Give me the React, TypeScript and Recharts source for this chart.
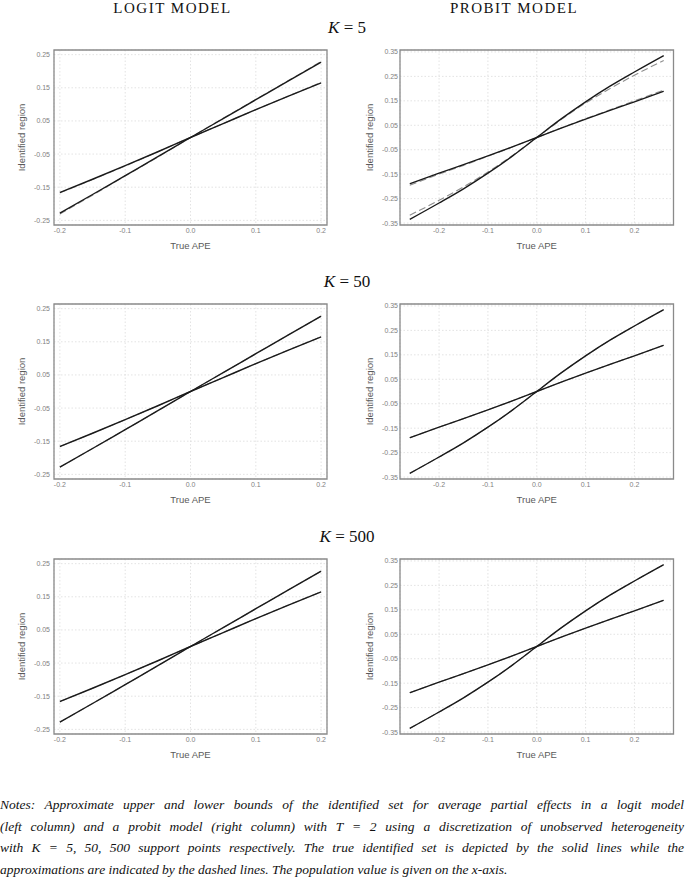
import React from "react";
import { CartesianGrid, Line, LineChart, ReferenceArea, XAxis, YAxis } from "recharts";

// ---------------------------------------------------------------------------
// Data (true APE on the x axis)
// ---------------------------------------------------------------------------

const LOGIT_X = [-0.2, -0.15, -0.1, -0.05, 0, 0.05, 0.1, 0.15, 0.2];
const LOGIT_STEEP = [-0.228, -0.172, -0.115, -0.058, 0.0, 0.057, 0.114, 0.171, 0.227];
const LOGIT_SHALLOW = [-0.166, -0.126, -0.085, -0.043, 0.0, 0.042, 0.084, 0.125, 0.165];
// K = 5 approximations (dashed)
const LOGIT_STEEP_K5 = [-0.231, -0.174, -0.116, -0.059, 0.0, 0.058, 0.115, 0.172, 0.229];
const LOGIT_SHALLOW_K5 = [-0.167, -0.127, -0.086, -0.043, 0.0, 0.042, 0.084, 0.125, 0.166];

const PROBIT_X = [-0.26, -0.2, -0.15, -0.1, -0.05, 0, 0.05, 0.1, 0.15, 0.2, 0.26];
const PROBIT_STEEP = [-0.335, -0.268, -0.210, -0.146, -0.076, 0.0, 0.076, 0.146, 0.210, 0.268, 0.335];
const PROBIT_SHALLOW = [-0.189, -0.146, -0.111, -0.075, -0.038, 0.0, 0.038, 0.075, 0.111, 0.146, 0.189];
// K = 5 approximations (dashed)
const PROBIT_STEEP_K5 = [-0.318, -0.257, -0.202, -0.141, -0.074, 0.0, 0.073, 0.141, 0.200, 0.255, 0.315];
const PROBIT_SHALLOW_K5 = [-0.195, -0.15, -0.114, -0.077, -0.039, 0.0, 0.039, 0.077, 0.113, 0.15, 0.194];

const K_VALUES = ["5", "50", "500"];

const LOGIT_X_TICKS = [-0.2, -0.1, 0, 0.1, 0.2];
const LOGIT_Y_TICKS = [-0.25, -0.15, -0.05, 0.05, 0.15, 0.25];
const PROBIT_X_TICKS = [-0.2, -0.1, 0, 0.1, 0.2];
const PROBIT_Y_TICKS = [-0.35, -0.25, -0.15, -0.05, 0.05, 0.15, 0.25, 0.35];

const NOTE_LINES = [
  "Notes: Approximate upper and lower bounds of the identified set for average partial effects in a logit model",
  "(left column) and a probit model (right column) with {T} = 2 using a discretization of unobserved heterogeneity",
  "with {K} = 5, 50, 500 support points respectively. The true identified set is depicted by the solid lines while the",
  "approximations are indicated by the dashed lines. The population value is given on the x-axis.",
];

// ---------------------------------------------------------------------------
// Styling
// ---------------------------------------------------------------------------

const SANS = '"Liberation Sans", Arial, sans-serif';
const SERIF = '"Liberation Serif", "Times New Roman", serif';
const TICK = { fontSize: 7, fill: "#7f7f7f", fontFamily: SANS };
const TITLE_COLOR = "#5a5a5a";
const FRAME_TOPS = [50, 304, 558.5];
const FRAME_H = 175;

type PanelProps = {
  model: "logit" | "probit";
  frameTop: number;
  xs: number[];
  steep: number[];
  shallow: number[];
  steepApprox: number[];
  shallowApprox: number[];
};

function Panel({ model, frameTop, xs, steep, shallow, steepApprox, shallowApprox }: PanelProps) {
  const logit = model === "logit";
  const colLeft = logit ? 0 : 340;
  const W = logit ? 340 : 345;
  const frameLeft = logit ? 54 : 400;
  const frameRight = logit ? 327 : 673.5;
  const yw = frameLeft - colLeft;
  const mr = colLeft + W - frameRight;
  const H = 10 + FRAME_H + 40;
  const xDomain: [number, number] = logit ? [-0.209, 0.209] : [-0.28, 0.28];
  const yDomain: [number, number] = logit ? [-0.264, 0.264] : [-0.358, 0.358];
  const yTitleX = logit ? 21.7 : 29.3;

  const data = xs.map((x, i) => ({
    x,
    steep: steep[i],
    shallow: shallow[i],
    steepApprox: steepApprox[i],
    shallowApprox: shallowApprox[i],
  }));

  const yTitle = () => {
    const cy = 10 + FRAME_H / 2;
    return (
      <text
        x={yTitleX}
        y={cy}
        transform={`rotate(-90, ${yTitleX}, ${cy})`}
        textAnchor="middle"
        dominantBaseline="central"
        fontFamily={SANS}
        fontSize={9.5}
        fill={TITLE_COLOR}
      >
        Identified region
      </text>
    );
  };
  const xTitle = () => (
    <text
      x={yw + (frameRight - frameLeft) / 2}
      y={10 + FRAME_H + 20}
      textAnchor="middle"
      dominantBaseline="central"
      fontFamily={SANS}
      fontSize={9.5}
      fill={TITLE_COLOR}
    >
      True APE
    </text>
  );

  return (
    <div style={{ position: "absolute", left: colLeft, top: frameTop - 10 }}>
      <LineChart width={W} height={H} data={data} margin={{ top: 10, right: mr, bottom: 0, left: 0 }}>
        <CartesianGrid strokeDasharray="1.5 2" stroke="#dcdcdc" strokeWidth={0.8} />
        <XAxis
          dataKey="x"
          type="number"
          domain={xDomain}
          ticks={logit ? LOGIT_X_TICKS : PROBIT_X_TICKS}
          tickFormatter={(v: number) => v.toFixed(1)}
          tick={TICK}
          tickLine={false}
          axisLine={false}
          tickSize={0}
          tickMargin={3}
          interval={0}
          height={40}
          allowDataOverflow
          label={xTitle}
        />
        <YAxis
          type="number"
          domain={yDomain}
          ticks={logit ? LOGIT_Y_TICKS : PROBIT_Y_TICKS}
          tickFormatter={(v: number) => v.toFixed(2)}
          tick={TICK}
          tickLine={false}
          axisLine={false}
          tickSize={0}
          tickMargin={logit ? 4 : 2}
          interval={0}
          width={yw}
          allowDataOverflow
          label={yTitle}
        />
        <ReferenceArea
          x1={xDomain[0]}
          x2={xDomain[1]}
          y1={yDomain[0]}
          y2={yDomain[1]}
          stroke="#8a8a8a"
          strokeWidth={1.3}
          fill="none"
          fillOpacity={0}
        />
        <Line dataKey="steepApprox" type="monotone" stroke="#8e8e8e" strokeWidth={1.1} strokeDasharray="7 3.5" dot={false} isAnimationActive={false} />
        <Line dataKey="shallowApprox" type="monotone" stroke="#8e8e8e" strokeWidth={1.1} strokeDasharray="7 3.5" dot={false} isAnimationActive={false} />
        <Line dataKey="steep" type="monotone" stroke="#1a1a1a" strokeWidth={1.4} dot={false} isAnimationActive={false} />
        <Line dataKey="shallow" type="monotone" stroke="#1a1a1a" strokeWidth={1.4} dot={false} isAnimationActive={false} />
      </LineChart>
    </div>
  );
}

function NoteLine({ text, last }: { text: string; last: boolean }) {
  const parts = text.split(/(\{[TK]\})/);
  return (
    <div style={{ textAlign: last ? "left" : "justify", textAlignLast: last ? "left" : "justify", height: 21.5, lineHeight: "21.5px", whiteSpace: "nowrap" }}>
      {parts.map((p, i) =>
        p === "{T}" || p === "{K}" ? <span key={i}>{p[1]}</span> : <span key={i}>{p}</span>
      )}
    </div>
  );
}

export default function App() {
  const headerStyle: React.CSSProperties = {
    position: "absolute",
    top: 0,
    width: 200,
    textAlign: "center",
    fontFamily: SERIF,
    fontSize: 15,
    letterSpacing: 1.5,
    lineHeight: "17px",
    color: "#111",
  };
  const kStyle: React.CSSProperties = {
    position: "absolute",
    left: 247,
    width: 200,
    textAlign: "center",
    fontFamily: SERIF,
    fontSize: 17,
    lineHeight: "20px",
    color: "#111",
  };

  return (
    <div style={{ position: "absolute", left: 0, top: 0, width: 685, height: 877, background: "#fff", overflow: "hidden" }}>
      <div style={{ ...headerStyle, left: 72.5 }}>LOGIT MODEL</div>
      <div style={{ ...headerStyle, left: 414 }}>PROBIT MODEL</div>

      {K_VALUES.map((k, row) => (
        <React.Fragment key={k}>
          <div style={{ ...kStyle, top: FRAME_TOPS[row] - 32 }}>
            <i>K</i> = {k}
          </div>
          <Panel
            model="logit"
            frameTop={FRAME_TOPS[row]}
            xs={LOGIT_X}
            steep={LOGIT_STEEP}
            shallow={LOGIT_SHALLOW}
            steepApprox={row === 0 ? LOGIT_STEEP_K5 : LOGIT_STEEP}
            shallowApprox={row === 0 ? LOGIT_SHALLOW_K5 : LOGIT_SHALLOW}
          />
          <Panel
            model="probit"
            frameTop={FRAME_TOPS[row]}
            xs={PROBIT_X}
            steep={PROBIT_STEEP}
            shallow={PROBIT_SHALLOW}
            steepApprox={row === 0 ? PROBIT_STEEP_K5 : PROBIT_STEEP}
            shallowApprox={row === 0 ? PROBIT_SHALLOW_K5 : PROBIT_SHALLOW}
          />
        </React.Fragment>
      ))}

      <div
        style={{
          position: "absolute",
          left: 0,
          top: 794,
          width: 684,
          fontFamily: SERIF,
          fontStyle: "italic",
          fontSize: 13.5,
          color: "#111",
        }}
      >
        {NOTE_LINES.map((t, i) => (
          <NoteLine key={i} text={t} last={i === NOTE_LINES.length - 1} />
        ))}
      </div>
    </div>
  );
}
